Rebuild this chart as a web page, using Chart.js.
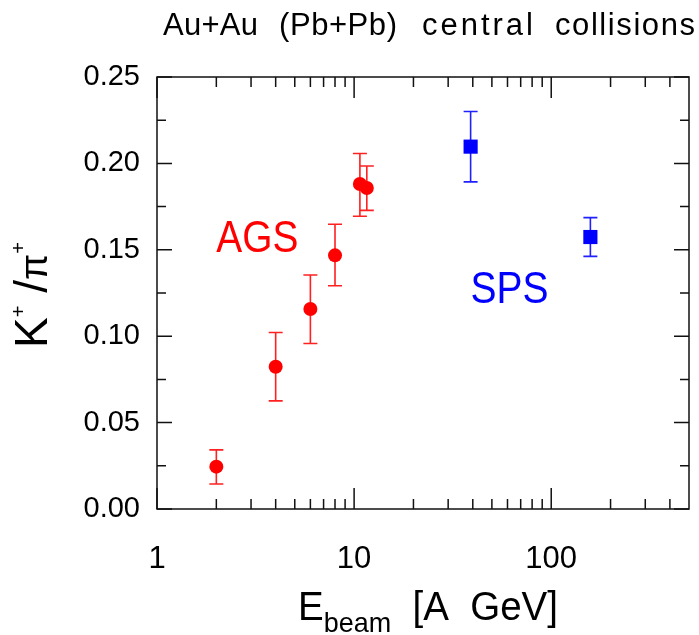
<!DOCTYPE html>
<html lang="en">
<head>
<meta charset="UTF-8">
<title>K+/pi+ vs beam energy</title>
<script src="https://cdn.jsdelivr.net/npm/chart.js"></script>
<style>
  html, body { margin: 0; padding: 0; background: #fff; }
</style>
</head>
<body>
<canvas id="myChart" width="699" height="635"></canvas>
<script>
// AGS points (Au+Au), red circles
const agsEnergy = [2, 4, 6, 8, 10.7, 11.6];
const agsRatio  = [0.0245, 0.0823, 0.1157, 0.1468, 0.1881, 0.1858];
const agsLow    = [0.0145, 0.0626, 0.0958, 0.1292, 0.1694, 0.1728];
const agsHigh   = [0.0342, 0.1021, 0.1354, 0.1648, 0.2057, 0.1985];

// SPS points (Pb+Pb), blue squares
const spsEnergy = [39, 158];
const spsRatio  = [0.2097, 0.1574];
const spsLow    = [0.1893, 0.1462];
const spsHigh   = [0.2300, 0.1686];

// axis ticks
const xMajorTicks = [1, 10, 100];
const xMinorTicks = [2, 3, 4, 5, 6, 7, 8, 9, 20, 30, 40, 50, 60, 70, 80, 90, 200, 300, 400];
const yMajorTicks = [0, 0.05, 0.10, 0.15, 0.20, 0.25];
const yMinorTicks = [0.025, 0.075, 0.125, 0.175, 0.225];

const titleWords = ['Au+Au', '(Pb+Pb)', 'central', 'collisions'];

const FONT = '"Liberation Sans", Arial, sans-serif';

// error bars drawn under the markers
const errorBars = {
    id: 'errorBars',
    beforeDatasetsDraw(chart) {
        const ctx = chart.ctx;
        const x = chart.scales.x, y = chart.scales.y;
        chart.data.datasets.forEach(ds => {
            ctx.save();
            ctx.strokeStyle = ds.barColor;
            ctx.lineWidth = 1.6;
            ds.data.forEach((p, i) => {
                const px = x.getPixelForValue(p.x);
                const top = y.getPixelForValue(ds.errHigh[i]);
                const bot = y.getPixelForValue(ds.errLow[i]);
                ctx.beginPath();
                ctx.moveTo(px, top); ctx.lineTo(px, bot);
                ctx.moveTo(px - 7, top); ctx.lineTo(px + 7, top);
                ctx.moveTo(px - 7, bot); ctx.lineTo(px + 7, bot);
                ctx.stroke();
            });
            ctx.restore();
        });
    }
};

// frame with inward ticks on all four sides, titles and labels
const frame = {
    id: 'frame',
    afterDraw(chart) {
        const ctx = chart.ctx;
        const a = chart.chartArea;
        const x = chart.scales.x, y = chart.scales.y;
        ctx.save();
        ctx.strokeStyle = '#111';
        ctx.lineWidth = 1.5;
        ctx.strokeRect(a.left, a.top, a.right - a.left, a.bottom - a.top);

        ctx.beginPath();
        const xt = (v, len) => {
            const px = x.getPixelForValue(v);
            ctx.moveTo(px, a.bottom); ctx.lineTo(px, a.bottom - len);
            ctx.moveTo(px, a.top); ctx.lineTo(px, a.top + len);
        };
        const yt = (v, len) => {
            const py = y.getPixelForValue(v);
            ctx.moveTo(a.left, py); ctx.lineTo(a.left + len, py);
            ctx.moveTo(a.right, py); ctx.lineTo(a.right - len, py);
        };
        xMajorTicks.forEach(v => xt(v, 21));
        xMinorTicks.forEach(v => xt(v, 10));
        yMajorTicks.forEach(v => yt(v, 15));
        yMinorTicks.forEach(v => yt(v, 9));
        ctx.stroke();

        ctx.fillStyle = '#000';
        ctx.textBaseline = 'alphabetic';
        ctx.textAlign = 'left';

        // main title, word by word, spread like the original lettering
        const wordStart = [163, 279, 422, 555];
        const wordWidth = [95, 118, 111, 140];
        ctx.font = '31px ' + FONT;
        titleWords.forEach((w, i) => {
            ctx.letterSpacing = '0px';
            const nat = ctx.measureText(w).width;
            const sp = (wordWidth[i] - nat) / (w.length - 1);
            if (sp >= 0) {
                ctx.letterSpacing = sp.toFixed(2) + 'px';
                ctx.fillText(w, wordStart[i], 35);
            } else {
                ctx.fillText(w, wordStart[i], 35, wordWidth[i]);
            }
        });
        ctx.letterSpacing = '0px';

        // x axis title: E_beam [A GeV]
        ctx.font = '40px ' + FONT;
        const wE = ctx.measureText('E').width;
        const wRest = ctx.measureText('  [A  GeV]').width;
        ctx.font = '28px ' + FONT;
        const wSub = ctx.measureText('beam').width;
        const s = 260 / (wE + wSub + wRest);
        ctx.save();
        ctx.translate(298, 0);
        ctx.scale(s, 1);
        ctx.font = '40px ' + FONT;
        ctx.fillText('E', 0, 620);
        ctx.font = '28px ' + FONT;
        ctx.fillText('beam', wE, 632);
        ctx.font = '40px ' + FONT;
        ctx.fillText('  [A  GeV]', wE + wSub, 620);
        ctx.restore();

        // y axis title: K+/π+
        ctx.save();
        ctx.translate(47, 295);
        ctx.rotate(-Math.PI / 2);
        const parts = [
            ['K', '46px', 0],
            ['+', '20px', -22],
            [' /', '46px', 0],
            ['π', '38px', 0],
            ['+', '20px', -22]
        ];
        let total = 0;
        parts.forEach(p => { ctx.font = p[1] + ' ' + FONT; total += ctx.measureText(p[0]).width; });
        let u = -total / 2;
        parts.forEach(p => {
            ctx.font = p[1] + ' ' + FONT;
            ctx.fillText(p[0], u, p[2]);
            u += ctx.measureText(p[0]).width;
        });
        ctx.restore();

        // AGS / SPS labels
        ctx.font = '44px ' + FONT;
        ctx.fillStyle = '#ff0000';
        ctx.fillText('AGS', x.getPixelForValue(2.0), y.getPixelForValue(0.149), 82);
        ctx.fillStyle = '#0000ff';
        ctx.fillText('SPS', x.getPixelForValue(39), y.getPixelForValue(0.1193), 78);
        ctx.restore();
    }
};

const ctx = document.getElementById('myChart').getContext('2d');
new Chart(ctx, {
    type: 'scatter',
    data: {
        datasets: [{
            label: 'AGS',
            data: agsEnergy.map((e, i) => ({ x: e, y: agsRatio[i] })),
            errLow: agsLow,
            errHigh: agsHigh,
            barColor: '#ff2020',
            pointStyle: 'circle',
            pointRadius: 7,
            backgroundColor: '#ff0000',
            borderColor: '#ff0000',
            borderWidth: 0
        }, {
            label: 'SPS',
            data: spsEnergy.map((e, i) => ({ x: e, y: spsRatio[i] })),
            errLow: spsLow,
            errHigh: spsHigh,
            barColor: '#2020ff',
            pointStyle: 'rect',
            pointRadius: 10,
            backgroundColor: '#0000ff',
            borderColor: '#0000ff',
            borderWidth: 0
        }]
    },
    options: {
        responsive: false,
        animation: false,
        devicePixelRatio: 1,
        layout: { padding: { top: 77, right: 2, left: 0, bottom: 0 } },
        plugins: {
            legend: { display: false },
            tooltip: { enabled: false }
        },
        scales: {
            x: {
                type: 'logarithmic',
                min: 1,
                max: 500,
                grid: { display: false, drawTicks: false },
                border: { display: false },
                afterBuildTicks: scale => {
                    scale.ticks = xMajorTicks.map(v => ({ value: v }));
                },
                afterFit: scale => { scale.height = 126; },
                ticks: {
                    autoSkip: false,
                    maxRotation: 0,
                    padding: 32,
                    color: '#000',
                    font: { family: FONT, size: 31 },
                    callback: v => String(v)
                }
            },
            y: {
                min: 0,
                max: 0.25,
                grid: { display: false, drawTicks: false },
                border: { display: false },
                afterBuildTicks: scale => {
                    scale.ticks = yMajorTicks.map(v => ({ value: v }));
                },
                afterFit: scale => { scale.width = 157; },
                ticks: {
                    padding: 17,
                    color: '#000',
                    font: { family: FONT, size: 29 },
                    callback: v => v.toFixed(2)
                }
            }
        }
    },
    plugins: [errorBars, frame]
});
</script>
</body>
</html>
